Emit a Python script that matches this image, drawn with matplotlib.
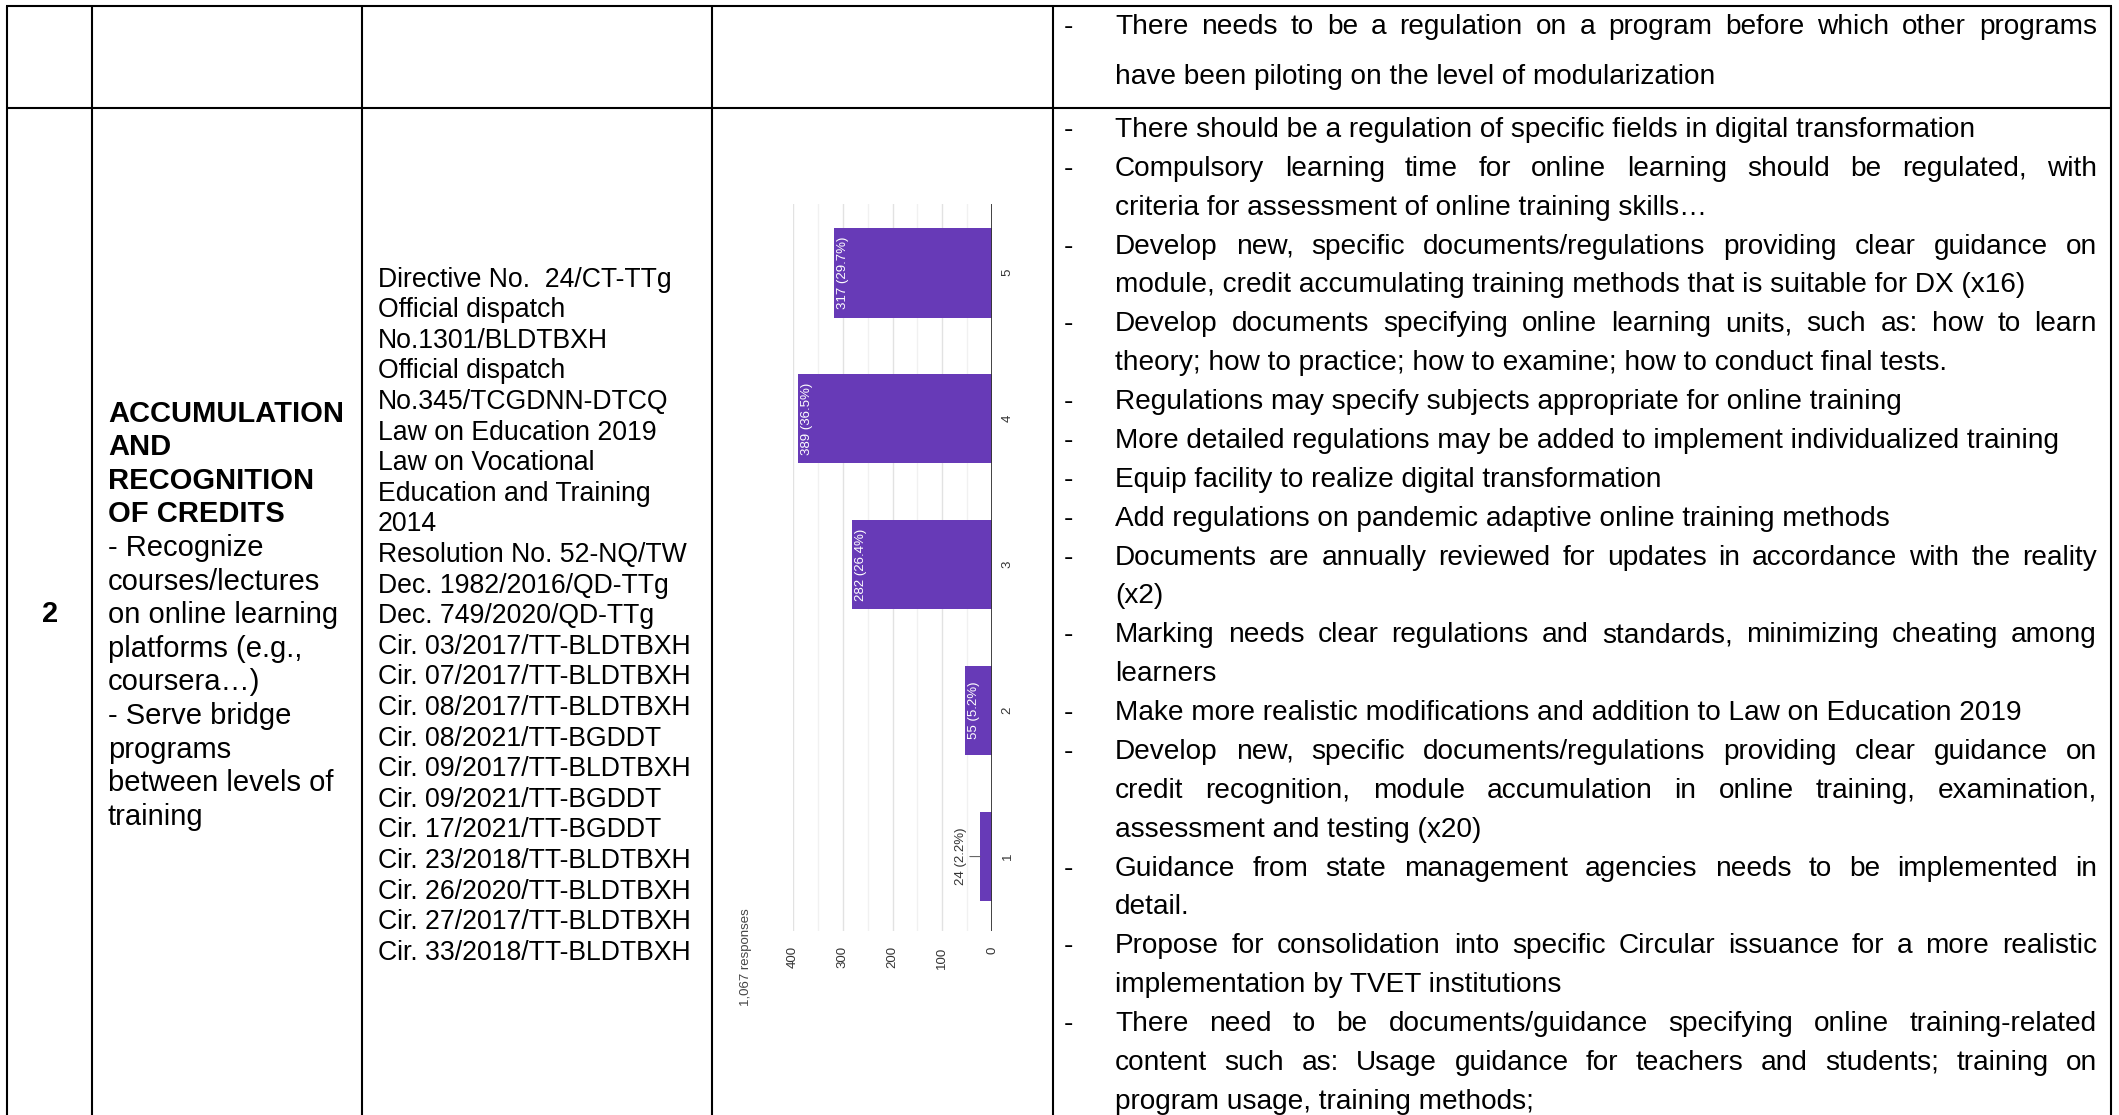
import matplotlib.pyplot as plt

W, H, DPI = 2119, 1115, 100

# survey chart: answers on a 1-5 scale
ratings = [1, 2, 3, 4, 5]
responses = [24, 55, 282, 389, 317]
total_responses = 1067
value_ticks = [0, 100, 200, 300, 400]
minor_ticks = [50, 150, 250, 350]

row_number = "2"
topic_heading = ["ACCUMULATION", "AND", "RECOGNITION", "OF CREDITS"]
topic_lines = [
    "- Recognize", "courses/lectures", "on online learning", "platforms (e.g.,",
    "coursera…)", "- Serve bridge", "programs", "between levels of", "training",
]
documents = [
    "Directive No.  24/CT-TTg", "Official dispatch", "No.1301/BLDTBXH",
    "Official dispatch", "No.345/TCGDNN-DTCQ", "Law on Education 2019",
    "Law on Vocational", "Education and Training", "2014",
    "Resolution No. 52-NQ/TW", "Dec. 1982/2016/QD-TTg", "Dec. 749/2020/QD-TTg",
    "Cir. 03/2017/TT-BLDTBXH", "Cir. 07/2017/TT-BLDTBXH", "Cir. 08/2017/TT-BLDTBXH",
    "Cir. 08/2021/TT-BGDDT", "Cir. 09/2017/TT-BLDTBXH", "Cir. 09/2021/TT-BGDDT",
    "Cir. 17/2021/TT-BGDDT", "Cir. 23/2018/TT-BLDTBXH", "Cir. 26/2020/TT-BLDTBXH",
    "Cir. 27/2017/TT-BLDTBXH", "Cir. 33/2018/TT-BLDTBXH",
]
prev_notes = [
    ["There needs to be a regulation on a program before which other programs",
     "have been piloting on the level of modularization"],
]
notes = [
    ["There should be a regulation of specific fields in digital transformation"],
    ["Compulsory learning time for online learning should be regulated, with",
     "criteria for assessment of online training skills…"],
    ["Develop new, specific documents/regulations providing clear guidance on",
     "module, credit accumulating training methods that is suitable for DX (x16)"],
    ["Develop documents specifying online learning units, such as: how to learn",
     "theory; how to practice; how to examine; how to conduct final tests."],
    ["Regulations may specify subjects appropriate for online training"],
    ["More detailed regulations may be added to implement individualized training"],
    ["Equip facility to realize digital transformation"],
    ["Add regulations on pandemic adaptive online training methods"],
    ["Documents are annually reviewed for updates in accordance with the reality",
     "(x2)"],
    ["Marking needs clear regulations and standards, minimizing cheating among",
     "learners"],
    ["Make more realistic modifications and addition to Law on Education 2019"],
    ["Develop new, specific documents/regulations providing clear guidance on",
     "credit recognition, module accumulation in online training, examination,",
     "assessment and testing (x20)"],
    ["Guidance from state management agencies needs to be implemented in",
     "detail."],
    ["Propose for consolidation into specific Circular issuance for a more realistic",
     "implementation by TVET institutions"],
    ["There need to be documents/guidance specifying online training-related",
     "content such as: Usage guidance for teachers and students; training on",
     "program usage, training methods;"],
]

plt.rcParams['font.family'] = ['Liberation Sans', 'DejaVu Sans']

fig = plt.figure(figsize=(W / DPI, H / DPI), dpi=DPI)
page = fig.add_axes([0, 0, 1, 1])
page.set_xlim(0, W)
page.set_ylim(H, 0)
page.axis('off')

# table grid
col_x = [7.3, 91.7, 362, 712, 1053, 2111]
top_y, row_y = 5.7, 107.7
for x in col_x:
    page.plot([x, x], [top_y, H], color='black', lw=1.5, solid_capstyle='butt')
for y in [top_y, row_y]:
    page.plot([col_x[0] - 1, col_x[-1] + 1], [y, y], color='black', lw=1.5,
              solid_capstyle='butt')

fig.canvas.draw()
renderer = fig.canvas.get_renderer()


def text_width(s, size):
    t = page.text(0, 0, s, fontsize=size)
    w = t.get_window_extent(renderer).width
    t.remove()
    return w


def draw_line(line, x0, x1, y, size, justify):
    if not justify:
        page.text(x0, y, line, fontsize=size, va='baseline')
        return
    words = line.split(' ')
    widths = [text_width(w, size) for w in words]
    gap = (x1 - x0 - sum(widths)) / (len(words) - 1)
    x = x0
    for word, w in zip(words, widths):
        page.text(x, y, word, fontsize=size, va='baseline')
        x += w + gap


def draw_notes(paragraphs, y, step, size=20.2):
    for para in paragraphs:
        page.text(1068, y, '-', fontsize=size, va='baseline', ha='center')
        for i, line in enumerate(para):
            draw_line(line, 1115, 2097, y, size, justify=i < len(para) - 1)
            y += step
    return y


draw_notes(prev_notes, 34.3, 50)
draw_notes(notes, 137, 38.87)

# first columns
page.text(50, 622, row_number, fontsize=21, fontweight='bold', ha='center', va='baseline')
y = 421.5
for line in topic_heading:
    page.text(108, y, line, fontsize=21, fontweight='bold', va='baseline')
    y += 33.6
for line in topic_lines:
    page.text(108, y, line, fontsize=21, va='baseline')
    y += 33.6
y = 286.6
for line in documents:
    page.text(378, y, line, fontsize=19.2, va='baseline')
    y += 30.6

# rotated bar chart
chart = fig.add_axes([793 / W, (H - 931) / H, (992 - 793) / W, (931 - 204) / H])
chart.barh(ratings, responses, height=0.615, color='#673ab7', zorder=3)
chart.set_xlim(400, 0)
chart.set_ylim(0.49, 5.47)
chart.set_xticks(value_ticks)
chart.set_xticks(minor_ticks, minor=True)
chart.set_yticks(ratings)
chart.grid(axis='x', which='major', color='#e2e2e2', lw=1)
chart.grid(axis='x', which='minor', color='#f1f1f1', lw=1)
chart.axvline(0, color='#333333', lw=1.3, zorder=4)
for s in chart.spines.values():
    s.set_visible(False)
chart.yaxis.tick_right()
chart.tick_params(axis='both', which='both', length=0, labelsize=9.5, labelcolor='#333333')
chart.tick_params(axis='x', pad=11, labelrotation=90)
chart.tick_params(axis='y', pad=7, labelrotation=90)
for lab in chart.get_yticklabels():
    lab.set_va('center')

for r, v in zip(ratings, responses):
    label = f"{v} ({v / total_responses * 100:.1f}%)"
    if v >= 40:
        chart.annotate(label, xy=(v, r), xytext=(3, 0), textcoords='offset pixels',
                       rotation=90, ha='left', va='center', color='white',
                       fontsize=9.5, zorder=5)
    else:
        chart.annotate(label, xy=(v, r), xytext=(-13, 0), textcoords='offset pixels',
                       rotation=90, ha='right', va='center', color='#333333',
                       fontsize=9.5, zorder=5,
                       arrowprops=dict(arrowstyle='-', color='#666666', lw=0.8,
                                       shrinkA=0, shrinkB=0))

page.text(746, 908, f"{total_responses:,} responses", rotation=90, ha='center',
          va='top', fontsize=9.5, color='#444444')

fig.savefig('out.png', dpi=DPI)
